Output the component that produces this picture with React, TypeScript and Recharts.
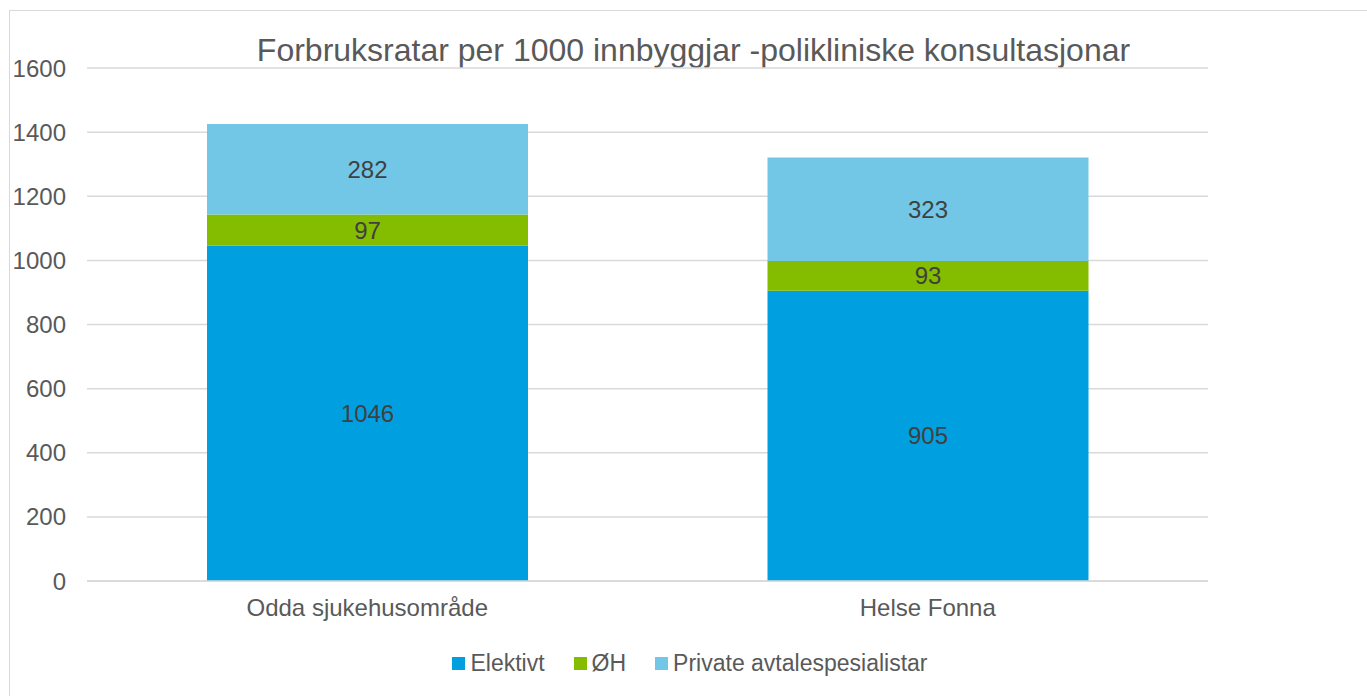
import React from "react";
import { BarChart, Bar, XAxis, YAxis, CartesianGrid, LabelList } from "recharts";

const categories = ["Odda sjukehusområde", "Helse Fonna"];
const elektivt = [1046, 905];
const oh = [97, 93];
const privat = [282, 323];
const yTicks = [0, 200, 400, 600, 800, 1000, 1200, 1400, 1600];
const title = "Forbruksratar per 1000 innbyggjar -polikliniske konsultasjonar";

const series = [
  { key: "elektivt", name: "Elektivt", color: "#009fe0" },
  { key: "oh", name: "ØH", color: "#84bd00" },
  { key: "privat", name: "Private avtalespesialistar", color: "#72c7e7" },
];

const data = categories.map((c, i) => ({
  name: c,
  elektivt: elektivt[i],
  oh: oh[i],
  privat: privat[i],
}));

const FONT = "'Liberation Sans', Arial, sans-serif";

export default function App() {
  return (
    <div style={{ position: "absolute", left: 0, top: 0, width: 1367, height: 696, overflow: "hidden", background: "#fff", fontFamily: FONT }}>
      <div
        style={{
          position: "absolute",
          left: 9,
          top: 10,
          width: 1400,
          height: 720,
          border: "1px solid #d9d9d9",
          boxSizing: "border-box",
        }}
      />
      <div
        style={{
          position: "absolute",
          left: 0,
          width: 1387,
          top: 32,
          textAlign: "center",
          fontSize: 32,
          lineHeight: "36px",
          color: "#595959",
          whiteSpace: "nowrap",
        }}
      >
        {title}
      </div>
      <div style={{ position: "absolute", left: 0, top: 0 }}>
        <BarChart
          width={1367}
          height={696}
          data={data}
          margin={{ top: 68, right: 159, bottom: 0, left: 0 }}
          barSize={321}
        >
          <CartesianGrid vertical={false} stroke="#d9d9d9" strokeWidth={1.5} />
          <XAxis
            dataKey="name"
            height={115}
            axisLine={{ stroke: "#d9d9d9", strokeWidth: 1.5 }}
            tickLine={false}
            tickSize={0}
            tickMargin={18}
            tick={{ fill: "#595959", fontSize: 24, fontFamily: FONT }}
          />
          <YAxis
            width={87}
            domain={[0, 1600]}
            ticks={yTicks}
            axisLine={false}
            tickLine={false}
            tickSize={0}
            tickMargin={21}
            tick={{ fill: "#595959", fontSize: 24, fontFamily: FONT }}
          />
          {series.map((s) => (
            <Bar key={s.key} dataKey={s.key} name={s.name} stackId="a" fill={s.color} isAnimationActive={false}>
              <LabelList dataKey={s.key} position="center" fill="#404040" fontSize={24} fontFamily={FONT} />
            </Bar>
          ))}
        </BarChart>
      </div>
      <div
        style={{
          position: "absolute",
          left: 0,
          width: 1380,
          top: 650,
          display: "flex",
          justifyContent: "center",
          alignItems: "center",
          fontSize: 23,
          color: "#595959",
        }}
      >
        {series.map((s, i) => (
          <div key={s.key} style={{ display: "flex", alignItems: "center", marginLeft: i === 0 ? 0 : 29 }}>
            <span style={{ display: "inline-block", width: 13, height: 13, background: s.color, marginRight: 5 }} />
            <span style={{ lineHeight: "26px" }}>{s.name}</span>
          </div>
        ))}
      </div>
    </div>
  );
}
